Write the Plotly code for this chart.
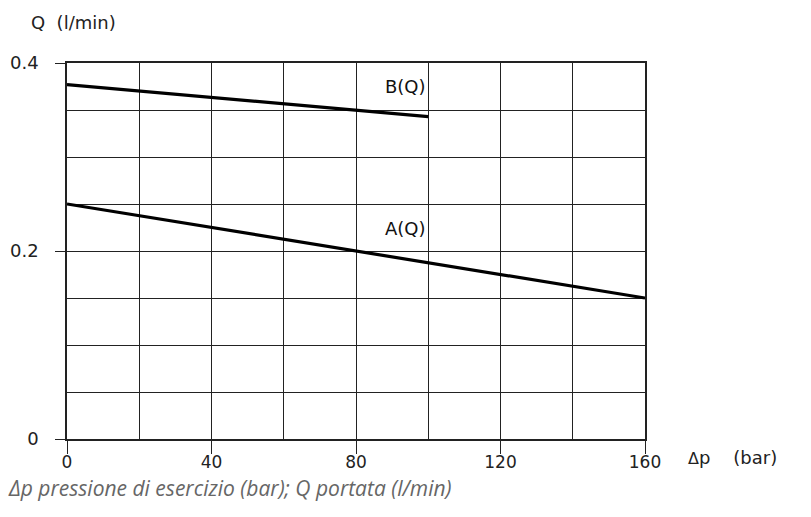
import plotly.graph_objects as go

# Data
dp_A = [0, 160]
Q_A = [0.25, 0.15]
dp_B = [0, 100]
Q_B = [0.377, 0.343]
x_ticks = [0, 40, 80, 120, 160]
y_ticks = [0, 0.2, 0.4]
y_tick_text = ["0", "0.2", "0.4"]

font_main = "DejaVu Sans"

fig = go.Figure()
fig.add_trace(go.Scatter(x=dp_B, y=Q_B, mode="lines", line=dict(color="black", width=3.2), showlegend=False))
fig.add_trace(go.Scatter(x=dp_A, y=Q_A, mode="lines", line=dict(color="black", width=3.2), showlegend=False))

fig.add_annotation(x=93.6, y=0.375, text="B(Q)", showarrow=False, font=dict(family=font_main, size=18, color="#111"))
fig.add_annotation(x=93.6, y=0.224, text="A(Q)", showarrow=False, font=dict(family=font_main, size=18, color="#111"))

fig.update_xaxes(
    range=[0, 160], tickvals=x_ticks, ticktext=[str(v) for v in x_ticks],
    showgrid=True, gridcolor="#222", gridwidth=1.2,
    minor=dict(dtick=20, tick0=0, showgrid=True, gridcolor="#222", gridwidth=1.2, ticks=""),
    ticks="outside", ticklen=13, tickwidth=1.2, tickcolor="#222",
    showline=True, linecolor="#222", linewidth=1.5, mirror=True,
    zeroline=False, tickfont=dict(family=font_main, size=17, color="#222"),
    ticklabelstandoff=-6, automargin=False,
)
fig.update_yaxes(
    range=[0, 0.4], tickvals=y_ticks, ticktext=y_tick_text,
    showgrid=True, gridcolor="#222", gridwidth=1.2,
    minor=dict(dtick=0.05, tick0=0, showgrid=True, gridcolor="#222", gridwidth=1.2, ticks=""),
    ticks="outside", ticklen=10, tickwidth=1.2, tickcolor="#222",
    showline=True, linecolor="#222", linewidth=1.5, mirror=True,
    zeroline=False, tickfont=dict(family=font_main, size=18, color="#222"),
    ticklabelstandoff=13, automargin=False,
)

fig.add_annotation(xref="paper", yref="paper", x=0, xshift=-38, y=1.0, yshift=41, xanchor="left", yanchor="middle",
                   text="Q&nbsp;&nbsp;(l/min)", showarrow=False, font=dict(family=font_main, size=18, color="#222"))
fig.add_annotation(xref="paper", yref="paper", x=1.0, xshift=41, y=0, yshift=-18, xanchor="left", yanchor="middle",
                   text="<span style='font-size:16px'>Δ</span>p&nbsp;&nbsp;&nbsp;&nbsp;(bar)", showarrow=False,
                   font=dict(family=font_main, size=18, color="#222"))
fig.add_annotation(xref="paper", yref="paper", x=0, xshift=-61, y=0, yshift=-49, xanchor="left", yanchor="middle",
                   text="<i>Δp pressione di esercizio (bar); Q portata (l/min)</i>", showarrow=False,
                   font=dict(family="Open Sans", size=21, color="#666"))

fig.update_layout(
    width=803, height=509,
    margin=dict(l=59, r=166, t=55, b=78),
    paper_bgcolor="white", plot_bgcolor="white",
)

fig.write_html("out.html")
